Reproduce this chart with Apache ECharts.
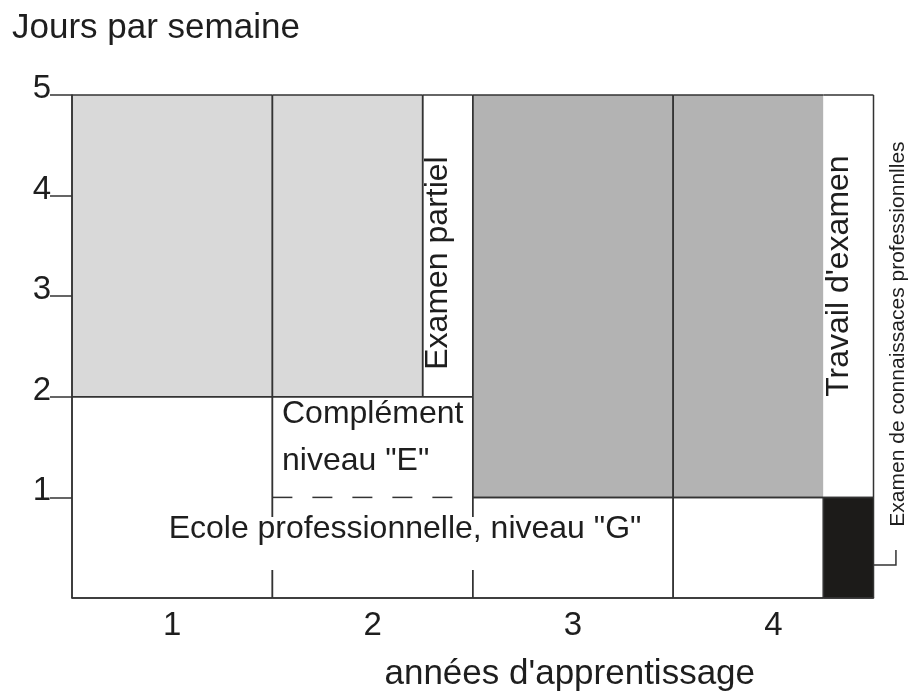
<!DOCTYPE html>
<html><head><meta charset="utf-8">
<script src="https://cdn.jsdelivr.net/npm/echarts@6/dist/echarts.min.js"></script>
<style>html,body{margin:0;padding:0;background:#fff}#c{width:909px;height:697px}</style>
</head><body><div id="c"></div>
<script>
// ---- data ----
const years = ['1', '2', '3', '4'];
const yearCenters = [0.5, 1.5, 2.5, 3.5];
const yTicks = [1, 2, 3, 4, 5];

const blockNames = ['École année 1', 'École année 2', 'Complément niveau E', 'Théorie année 1', 'Théorie année 2',
  'Examen partiel', 'Pratique année 3', 'Pratique année 4', "Travail d'examen", 'École année 3', 'École année 4',
  'Examen de connaissances'];
const blockStart = [0, 1, 1, 0, 1, 1.75, 2, 3, 3.75, 2, 3, 3.75];
const blockEnd   = [1, 2, 2, 1, 1.75, 2, 3, 3.75, 4, 3, 3.75, 4];
const blockLow   = [0, 0, 1, 2, 2, 2, 1, 1, 1, 0, 0, 0];
const blockHigh  = [2, 1, 2, 5, 5, 5, 5, 5, 5, 1, 1, 1];

const noteTexts = ['Examen partiel', "Travail d'examen", 'Complément\nniveau "E"',
  'Ecole professionnelle, niveau "G"', 'Examen de connaissaces professionnlles'];
const noteX = [1.75, 3.75, 1.048, 1.662, 4.069];
const noteY = [3.33, 3.2, 2.063, 0.805, 2.624];

const leaderX = [4, 4.112, 4.112];
const leaderY = [0.328, 0.328, 0.477];

// ---- styles ----
const LINE = '#333333';
const TXT = '#1e1e1e';
const FONT = '"Liberation Sans", Arial, sans-serif';
const C_LIGHT = '#d9d9d9', C_DARK = '#b3b3b3', C_BLACK = '#1c1b19', C_WHITE = '#ffffff';
const blockStyle = {
  'École année 1': { fill: C_WHITE, sides: 'tlrb' },
  'École année 2': { fill: C_WHITE, sides: 'lrb', dashed: 't' },
  'Complément niveau E': { fill: C_WHITE, sides: 'tlr' },
  'Théorie année 1': { fill: C_LIGHT, sides: 'tlrb' },
  'Théorie année 2': { fill: C_LIGHT, sides: 'tlrb' },
  'Examen partiel': { fill: C_WHITE, sides: 'tlrb' },
  'Pratique année 3': { fill: C_DARK, sides: 'tlrb' },
  'Pratique année 4': { fill: C_DARK, sides: 'tlb' },
  "Travail d'examen": { fill: C_WHITE, sides: 'trb' },
  'École année 3': { fill: C_WHITE, sides: 'tlrb' },
  'École année 4': { fill: C_WHITE, sides: 'tlrb' },
  'Examen de connaissances': { fill: C_BLACK, sides: 'tlrb' }
};
const noteStyle = [
  { rotation: Math.PI / 2, fontSize: 32, lineHeight: 32, align: 'center', verticalAlign: 'top' },
  { rotation: Math.PI / 2, fontSize: 32, lineHeight: 32, align: 'center', verticalAlign: 'top' },
  { rotation: 0, fontSize: 32, lineHeight: 47, align: 'left', verticalAlign: 'top' },
  { rotation: 0, fontSize: 32, lineHeight: 24, align: 'center', verticalAlign: 'top', backgroundColor: '#ffffff', padding: [0, 4, 29, 4] },
  { rotation: Math.PI / 2, fontSize: 21, lineHeight: 21, align: 'center', verticalAlign: 'top' }
];

const chart = echarts.init(document.getElementById('c'), null, { renderer: 'canvas' });

function renderBlock(params, api) {
  const st = blockStyle[blockNames[params.dataIndex]];
  const p0 = api.coord([api.value(0), api.value(2)]);
  const p1 = api.coord([api.value(1), api.value(3)]);
  const L = p0[0], R = p1[0], T = p1[1], B = p0[1];
  const sides = { t: [[L, T], [R, T]], r: [[R, T], [R, B]], b: [[L, B], [R, B]], l: [[L, T], [L, B]] };
  const children = [{ type: 'rect', shape: { x: L, y: T, width: R - L, height: B - T }, style: { fill: st.fill }, z2: 0 }];
  for (const s of st.sides) {
    children.push({ type: 'polyline', shape: { points: sides[s] }, style: { stroke: LINE, lineWidth: 1.5, fill: null }, z2: 10 });
  }
  for (const s of (st.dashed || '')) {
    children.push({ type: 'polyline', shape: { points: sides[s] }, style: { stroke: LINE, lineWidth: 1.5, fill: null, lineDash: [20, 20] }, z2: 10 });
  }
  return { type: 'group', children };
}

function renderLeader(params, api) {
  const pts = leaderX.map((x, i) => api.coord([x, leaderY[i]]));
  return { type: 'polyline', shape: { points: pts }, style: { stroke: LINE, lineWidth: 1.5, fill: null }, z2: 10 };
}

function renderNote(params, api) {
  const i = params.dataIndex;
  const ns = noteStyle[i];
  const p = api.coord([api.value(0), api.value(1)]);
  const style = {
    text: noteTexts[i], fill: TXT, fontSize: ns.fontSize, fontFamily: FONT, lineHeight: ns.lineHeight,
    align: ns.align, verticalAlign: ns.verticalAlign
  };
  if (ns.backgroundColor) { style.backgroundColor = ns.backgroundColor; style.padding = ns.padding; }
  return { type: 'text', x: p[0], y: p[1], rotation: ns.rotation, style, z2: 20 };
}

chart.setOption({
  animation: false,
  backgroundColor: '#ffffff',
  grid: { left: 72, right: 35.5, top: 95, bottom: 99 },
  xAxis: {
    type: 'value', min: 0, max: 4, z: 5,
    axisLine: { show: true, lineStyle: { color: LINE, width: 1.5 } },
    axisTick: { show: false },
    splitLine: { show: false },
    axisLabel: {
      customValues: yearCenters,
      formatter: v => years[Math.floor(v)],
      fontSize: 33, color: TXT, fontFamily: FONT, margin: 16, verticalAlign: 'top', lineHeight: 24
    },
    name: "années d'apprentissage", nameLocation: 'middle', nameGap: 59,
    nameTextStyle: { fontSize: 35, lineHeight: 35, color: TXT, fontFamily: FONT, padding: [0, 0, 0, 194] }
  },
  yAxis: {
    type: 'value', min: 0, max: 5, interval: 1, z: 5,
    axisLine: { show: true, lineStyle: { color: LINE, width: 1.5 } },
    axisTick: { show: true, length: 22, customValues: yTicks, lineStyle: { color: LINE, width: 1.5 } },
    splitLine: { show: false },
    axisLabel: {
      customValues: yTicks,
      fontSize: 33, color: TXT, fontFamily: FONT, margin: 21, verticalAlign: 'bottom', lineHeight: 12
    },
    name: 'Jours par semaine', nameLocation: 'end', nameGap: 49,
    nameTextStyle: { fontSize: 35, lineHeight: 35, color: TXT, fontFamily: FONT, align: 'left', verticalAlign: 'bottom', padding: [0, 0, 0, -60] }
  },
  series: [
    {
      type: 'custom', name: 'blocs', z: 2, clip: false,
      encode: { x: [0, 1], y: [2, 3] },
      renderItem: renderBlock,
      data: blockNames.map((n, i) => [blockStart[i], blockEnd[i], blockLow[i], blockHigh[i]])
    },
    {
      type: 'custom', name: 'repère', z: 3, clip: false, silent: true,
      renderItem: renderLeader,
      data: [[leaderX[0], leaderY[0]]]
    },
    {
      type: 'custom', name: 'notes', z: 6, clip: false,
      encode: { x: 0, y: 1 },
      renderItem: renderNote,
      data: noteTexts.map((t, i) => [noteX[i], noteY[i]])
    }
  ]
});
</script>
</body></html>
